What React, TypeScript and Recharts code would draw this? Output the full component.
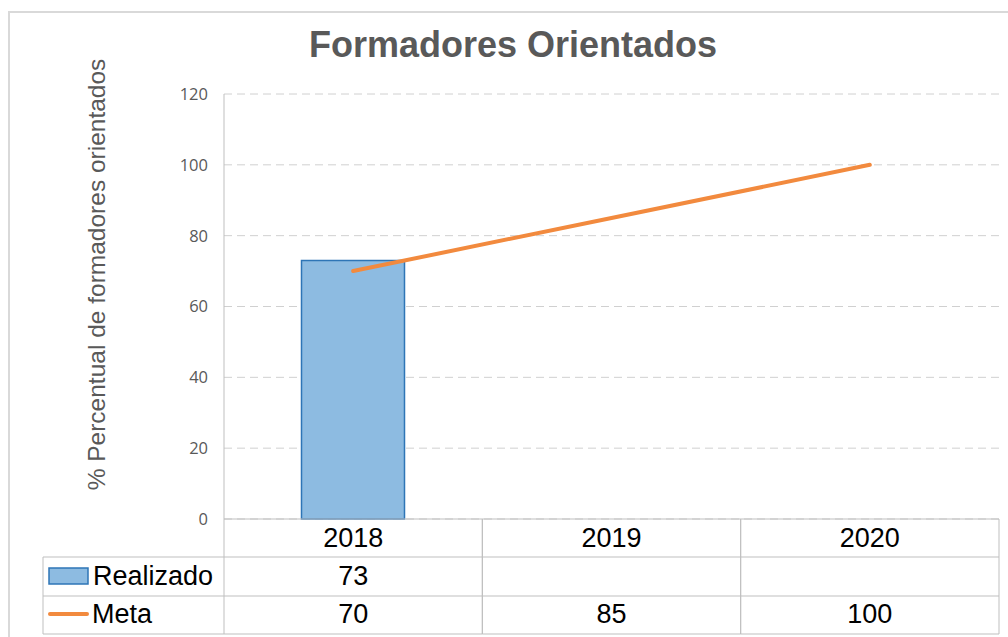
import React from "react";
import { ComposedChart, Bar, Line, XAxis, YAxis, CartesianGrid } from "recharts";

const years = ["2018", "2019", "2020"];
const realizado: (number | null)[] = [73, null, null];
const meta = [70, 85, 100];
const yTicks = [0, 20, 40, 60, 80, 100, 120];

const data = years.map((year, i) => ({ year, realizado: realizado[i], meta: meta[i] }));

const W = 1008;
const H = 637;
const PLOT_LEFT = 224;
const PLOT_RIGHT = 999;
const CELL = (PLOT_RIGHT - PLOT_LEFT) / years.length;
const ROW = [38, 39, 38];
const GRID = "#BFBFBF";
const BAR_FILL = "#8DBBE1";
const BAR_STROKE = "#2E75B6";
const ORANGE = "#F28A3E";
const FONT = "'Liberation Sans', Arial, sans-serif";

function TableTick(props: any) {
  const { x, y, payload, index } = props;
  const i = index as number;
  const left = x - CELL / 2;
  const right = x + CELL / 2;
  const r1 = y + ROW[0];
  const r2 = r1 + ROW[1];
  const r3 = r2 + ROW[2];
  const txt = { fontFamily: FONT, fontSize: 27, fill: "#000", textAnchor: "middle" as const };
  return (
    <g>
      <line x1={left} y1={y} x2={left} y2={r3} stroke={GRID} />
      <line x1={right} y1={y} x2={right} y2={r3} stroke={GRID} />
      <line x1={left} y1={r1} x2={right} y2={r1} stroke={GRID} />
      <line x1={left} y1={r2} x2={right} y2={r2} stroke={GRID} />
      <line x1={left} y1={r3} x2={right} y2={r3} stroke={GRID} />
      <text x={x} y={y + 28} {...txt}>{payload.value}</text>
      <text x={x} y={r1 + 28} {...txt}>{realizado[i] ?? ""}</text>
      <text x={x} y={r2 + 27} {...txt}>{meta[i]}</text>
      {i === 0 && (
        <g>
          <line x1={43} y1={r1} x2={left} y2={r1} stroke={GRID} />
          <line x1={43} y1={r2} x2={left} y2={r2} stroke={GRID} />
          <line x1={43} y1={r3} x2={left} y2={r3} stroke={GRID} />
          <line x1={43} y1={r1} x2={43} y2={r3} stroke={GRID} />
          <rect x={49} y={r1 + 11} width={39} height={16} fill={BAR_FILL} stroke={BAR_STROKE} strokeWidth={1.5} />
          <text x={93} y={r1 + 28} fontFamily={FONT} fontSize={27} fill="#000">Realizado</text>
          <line x1={50} y1={r2 + 18} x2={87} y2={r2 + 18} stroke={ORANGE} strokeWidth={4} strokeLinecap="round" />
          <text x={92} y={r2 + 27} fontFamily={FONT} fontSize={27} fill="#000">Meta</text>
        </g>
      )}
    </g>
  );
}

function YLabel(props: any) {
  const { viewBox } = props;
  const cx = 96;
  const cy = viewBox.y + viewBox.height / 2 - 32;
  return (
    <text
      x={cx}
      y={cy}
      transform={`rotate(-90, ${cx}, ${cy})`}
      textAnchor="middle"
      dominantBaseline="central"
      fontFamily={FONT}
      fontSize={24.5}
      fill="#595959"
    >
      % Percentual de formadores orientados
    </text>
  );
}

export default function App() {
  return (
    <div style={{ position: "absolute", left: 0, top: 0, width: W, height: H, overflow: "hidden", background: "#fff" }}>
      <div
        style={{
          position: "absolute",
          left: 8,
          top: 11,
          width: W + 20,
          height: H + 20,
          border: "2px solid #D9D9D9",
          boxSizing: "border-box",
        }}
      />
      <div
        style={{
          position: "absolute",
          left: 0,
          top: 24,
          width: 1026,
          textAlign: "center",
          fontFamily: FONT,
          fontWeight: "bold",
          fontSize: 36,
          color: "#595959",
        }}
      >
        Formadores Orientados
      </div>
      <div style={{ position: "absolute", left: 0, top: 0 }}>
        <ComposedChart
          width={W}
          height={H}
          data={data}
          margin={{ top: 94, right: W - PLOT_RIGHT, bottom: 3, left: 0 }}
          barCategoryGap="30%"
        >
          <CartesianGrid vertical={false} stroke="#D0D0D0" strokeDasharray="8 5" />
          <XAxis
            dataKey="year"
            height={115}
            interval={0}
            axisLine={{ stroke: GRID }}
            tickLine={false}
            tickSize={0}
            tickMargin={0}
            tick={<TableTick />}
          />
          <YAxis
            width={PLOT_LEFT}
            domain={[0, 120]}
            ticks={yTicks}
            axisLine={{ stroke: GRID }}
            tickLine={false}
            tickSize={8}
            tickMargin={8}
            tick={{ fontFamily: "'Open Sans', sans-serif", fontSize: 16.5, fill: "#595959" }}
            label={<YLabel />}
          />
          <Bar dataKey="realizado" fill={BAR_FILL} stroke={BAR_STROKE} strokeWidth={1.5} isAnimationActive={false} />
          <Line
            dataKey="meta"
            type="linear"
            stroke={ORANGE}
            strokeWidth={4}
            strokeLinecap="round"
            dot={false}
            activeDot={false}
            isAnimationActive={false}
          />
        </ComposedChart>
      </div>
    </div>
  );
}
